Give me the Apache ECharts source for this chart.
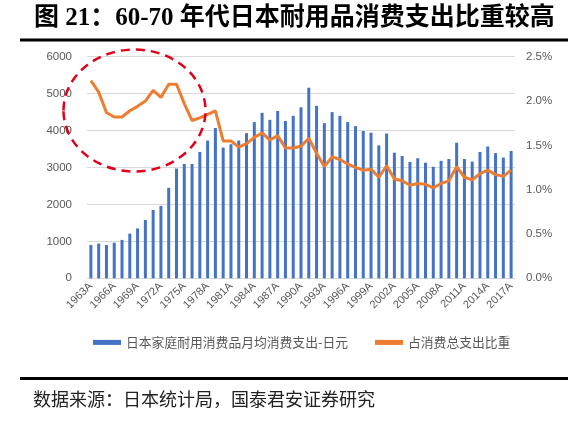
<!DOCTYPE html>
<html>
<head>
<meta charset="utf-8">
<script src="https://cdn.jsdelivr.net/npm/echarts@6/dist/echarts.min.js"></script>
<style>
html,body{margin:0;padding:0;background:#fff;}
#c{width:584px;height:421px;}
</style>
</head>
<body>
<div id="c"></div>
<script>
var categories = ['1963A','1964A','1965A','1966A','1967A','1968A','1969A','1970A','1971A','1972A',
'1973A','1974A','1975A','1976A','1977A','1978A','1979A','1980A','1981A','1982A',
'1983A','1984A','1985A','1986A','1987A','1988A','1989A','1990A','1991A','1992A',
'1993A','1994A','1995A','1996A','1997A','1998A','1999A','2000A','2001A','2002A',
'2003A','2004A','2005A','2006A','2007A','2008A','2009A','2010A','2011A','2012A',
'2013A','2014A','2015A','2016A','2017A'];

var spending = [900,940,900,965,1040,1210,1350,1580,1850,1960,
2450,2970,3095,3095,3420,3730,4070,3540,3630,3730,
3930,4230,4480,4290,4530,4260,4400,4630,5160,4670,
4200,4500,4400,4230,4120,3990,3940,3600,3920,3400,
3310,3150,3250,3130,3020,3180,3230,3670,3230,3160,
3420,3570,3390,3270,3450];

var share = [2.23,2.10,1.87,1.82,1.82,1.89,1.94,2.00,2.12,2.04,
2.19,2.19,1.97,1.78,1.81,1.85,1.89,1.55,1.55,1.48,
1.52,1.59,1.64,1.56,1.61,1.47,1.47,1.49,1.58,1.41,
1.26,1.37,1.34,1.29,1.25,1.22,1.23,1.14,1.27,1.12,
1.10,1.05,1.07,1.06,1.02,1.07,1.10,1.26,1.14,1.11,
1.18,1.22,1.17,1.15,1.22];

var seriesNames = ['日本家庭耐用消费品月均消费支出-日元','占消费总支出比重'];
var titleText = '图 21：60-70 年代日本耐用品消费支出比重较高';
var sourceText = '数据来源：日本统计局，国泰君安证券研究';

var chart = echarts.init(document.getElementById('c'));
var gray = '#595959';
chart.setOption({
  animation:false,
  backgroundColor:'#fff',
  grid:{left:87,right:69,top:56.7,bottom:142.7},
  legend:{
    left:88, top:331, width:480, itemWidth:28, itemHeight:5, itemGap:27,
    textStyle:{fontSize:12.8,color:gray,fontFamily:'Noto Sans CJK SC'},
    data:[{name:seriesNames[0],icon:'rect'},{name:seriesNames[1],icon:'rect'}]
  },
  xAxis:{
    type:'category', data:categories,
    axisLine:{lineStyle:{color:'#d9d9d9'}},
    axisTick:{show:false},
    axisLabel:{interval:2,rotate:45,fontSize:11,color:gray,margin:6,fontFamily:'Arial, Liberation Sans'}
  },
  yAxis:[{
    type:'value',min:0,max:6000,interval:1000,
    axisLine:{show:false},axisTick:{show:false},
    splitLine:{lineStyle:{color:'#d9d9d9',width:1}},
    axisLabel:{fontSize:11.5,color:gray,margin:15,fontFamily:'Arial, Liberation Sans',
      formatter:function(v){return String(v);}}
  },{
    type:'value',min:0,max:2.5,interval:0.5,
    axisLine:{show:false},axisTick:{show:false},splitLine:{show:false},
    axisLabel:{fontSize:11.5,color:gray,margin:11,fontFamily:'Arial, Liberation Sans',
      formatter:function(v){return v.toFixed(1)+'%';}}
  }],
  series:[{
    name:seriesNames[0],type:'bar',data:spending,barWidth:3,
    itemStyle:{color:'#4472C4'}
  },{
    name:seriesNames[1],type:'line',yAxisIndex:1,data:share,
    showSymbol:false,symbol:'none',
    lineStyle:{color:'#ED7D31',width:3},itemStyle:{color:'#ED7D31'}
  }],
  graphic:[
    {type:'text',left:34,top:6,style:{text:titleText,fontSize:25,fontWeight:'bold',
      fontFamily:"'Liberation Serif','Noto Sans CJK SC'",fill:'#000'}},
    {type:'rect',shape:{x:20,y:38.5,width:548,height:3},style:{fill:'#000'}},
    {type:'rect',shape:{x:20,y:377,width:548,height:3},style:{fill:'#000'}},
    {type:'text',left:33,top:390,style:{text:sourceText,fontSize:18,
      fontFamily:"'Noto Sans CJK SC'",fill:'#222'}},
    {type:'ellipse',shape:{cx:134.5,cy:110.5,rx:71,ry:61},z:100,
      style:{fill:'none',stroke:'#E0001B',lineWidth:2.5,lineDash:[9,6]}}
  ]
});
</script>
</body>
</html>
